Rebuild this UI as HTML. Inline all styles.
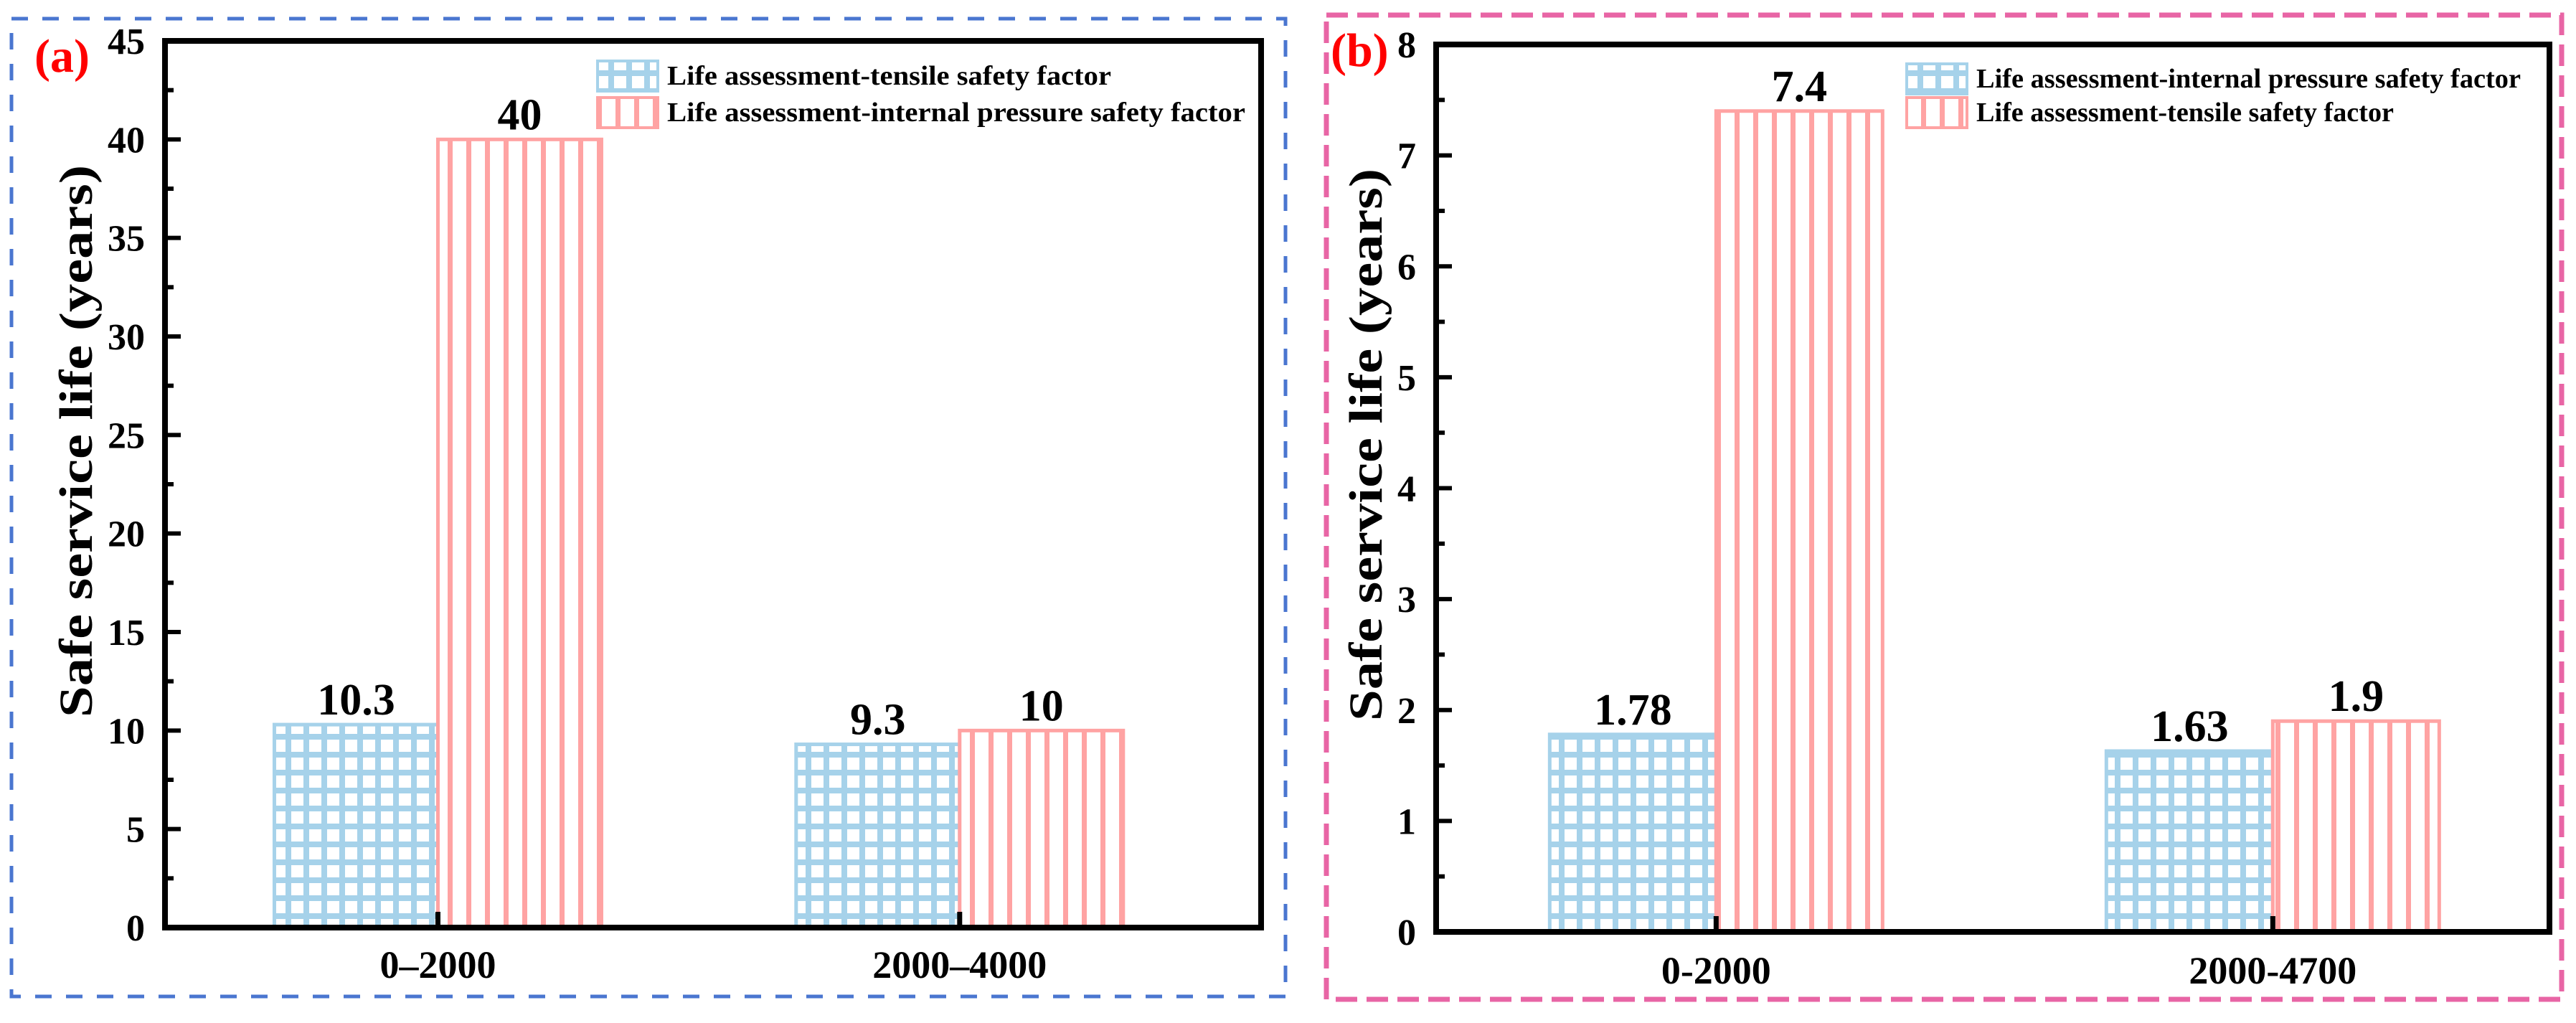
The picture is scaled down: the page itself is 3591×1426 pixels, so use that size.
<!DOCTYPE html>
<html><head><meta charset="utf-8"><style>
html,body{margin:0;padding:0;background:#fff}
svg{display:block}
text{font-family:"Liberation Serif",serif;font-weight:bold}
</style></head><body>
<svg id="fig" width="3591" height="1426" viewBox="0 0 3591 1426" xmlns="http://www.w3.org/2000/svg">
<defs>
<pattern id="gridBlue" patternUnits="userSpaceOnUse" width="25" height="25">
<rect width="25" height="25" fill="#a6d2ea"/><rect x="6" y="6" width="17" height="17" fill="#fff"/>
</pattern>
<pattern id="stripeRed" patternUnits="userSpaceOnUse" width="26" height="26">
<rect width="26" height="26" fill="#fff"/><rect x="0" y="0" width="7" height="26" fill="#ffa3a3"/>
</pattern>
</defs>
<rect x="16" y="26" width="1776" height="1363" fill="none" stroke="#4a76d0" stroke-width="5" stroke-dasharray="23 20"/>
<rect x="1849" y="21" width="1722" height="1372" fill="none" stroke="#e865a5" stroke-width="7" stroke-dasharray="30 13"/>
<g id="panelA"></g>
<g id="panelB"></g>
</svg>
<script>
const catsA = ["0\u20132000", "2000\u20134000"];
const blueA = [10.3, 9.3];
const redA = [40, 10];
const blueLabelsA = ["10.3", "9.3"];
const redLabelsA = ["40", "10"];
const ticksA = [0,5,10,15,20,25,30,35,40,45];
const legendA = ["Life assessment-tensile safety factor", "Life assessment-internal pressure safety factor"];

const catsB = ["0-2000", "2000-4700"];
const blueB = [1.78, 1.63];
const redB = [7.4, 1.9];
const blueLabelsB = ["1.78", "1.63"];
const redLabelsB = ["7.4", "1.9"];
const ticksB = [0,1,2,3,4,5,6,7,8];
const legendB = ["Life assessment-internal pressure safety factor", "Life assessment-tensile safety factor"];

const NS = "http://www.w3.org/2000/svg";
function mk(parent, tag, attrs, txt){
  const e = document.createElementNS(NS, tag);
  for (const k in attrs) e.setAttribute(k, attrs[k]);
  if (txt !== undefined) e.textContent = txt;
  parent.appendChild(e);
  return e;
}

function drawPanel(g, cfg){
  const {L,R,T,B,ymax,ticks,minorStep,cats,blue,red,bl,rl,catFrac,barW,legend,leg,title,titleX,titleY,labelTxt,labelX,labelY,xlabY,legW} = cfg;
  const y = v => B - v/ymax*(B-T);
  const x = f => L + f*(R-L);
  cats.forEach((c,i)=>{
    const cx = x(catFrac[i]);
    const b = mk(g,'rect',{x:cx-barW,y:y(blue[i]),width:barW,height:B-y(blue[i]),fill:'url(#gridBlue)',stroke:'#a6d2ea','stroke-width':5});
    
    
    const r = mk(g,'rect',{x:cx,y:y(red[i]),width:barW,height:B-y(red[i]),fill:'url(#stripeRed)',stroke:'#ffa3a3','stroke-width':5});
    
    
    const t1 = mk(g,'text',{x:cx-barW/2,y:y(blue[i])-14,'font-size':62,'text-anchor':'middle'},bl[i]);
    
    
    const t2 = mk(g,'text',{x:cx+barW/2,y:y(red[i])-14,'font-size':62,'text-anchor':'middle'},rl[i]);
    
    
    const tk = mk(g,'line',{x1:cx,x2:cx,y1:B,y2:B-22,stroke:'#000','stroke-width':7});
    
    
    const xl = mk(g,'text',{x:cx,y:xlabY,'font-size':54,'text-anchor':'middle'},c);
    
    
  });
  ticks.forEach(v=>{
    const tl = mk(g,'line',{x1:L,x2:L+22,y1:y(v),y2:y(v),stroke:'#000','stroke-width':6});
    
    
    const tt = mk(g,'text',{x:L-28,y:y(v)+18,'font-size':52,'text-anchor':'end'},String(v));
    
    
  });
  for (let v=minorStep; v<ymax; v+=2*minorStep){
    const ml = mk(g,'line',{x1:L,x2:L+12,y1:y(v),y2:y(v),stroke:'#000','stroke-width':6});
    
    
  }
  const fr = mk(g,'rect',{x:L,y:T,width:R-L,height:B-T,fill:'none',stroke:'#000','stroke-width':8});
  
  
  const yt = mk(g,'text',{x:titleX,y:titleY,'font-size':66,'text-anchor':'middle',transform:`rotate(-90 ${titleX} ${titleY})`,textLength:770,lengthAdjust:'spacingAndGlyphs'},title);
  
  
  const fills=['url(#gridBlue)','url(#stripeRed)'], strokes=['#a6d2ea','#ffa3a3'];
  legend.forEach((s,i)=>{
    const sy = leg.y + i*leg.dy;
    const sw = mk(g,'rect',{x:leg.x,y:sy,width:84,height:42,fill:fills[i],stroke:strokes[i],'stroke-width':4});
    
    
    const lt = mk(g,'text',{x:leg.x+97,y:sy+33,'font-size':38,textLength:legW[i],lengthAdjust:'spacingAndGlyphs'},s);
    
    
  });
  const pl = mk(g,'text',{x:labelX,y:labelY,'font-size':66,fill:'#ff0000'},labelTxt);
  
  
}

drawPanel(document.getElementById('panelA'),{
  L:230,R:1758,T:57,B:1293,ymax:45,ticks:ticksA,minorStep:2.5,
  cats:catsA,blue:blueA,red:redA,bl:blueLabelsA,rl:redLabelsA,
  catFrac:[0.249,0.725],barW:228,legend:legendA,leg:{x:833,y:85,dy:51},legW:[619,806],
  title:"Safe service life (years)",titleX:128,titleY:615,labelTxt:"(a)",labelX:48,labelY:100,xlabY:1363
});
drawPanel(document.getElementById('panelB'),{
  L:2002,R:3554,T:62,B:1299,ymax:8,ticks:ticksB,minorStep:0.5,
  cats:catsB,blue:blueB,red:redB,bl:blueLabelsB,rl:redLabelsB,
  catFrac:[0.2515,0.7515],barW:232,legend:legendB,leg:{x:2658,y:89,dy:47},legW:[759,582],
  title:"Safe service life (years)",titleX:1926,titleY:620,labelTxt:"(b)",labelX:1855,labelY:92,xlabY:1371
});
</script>
</body></html>
